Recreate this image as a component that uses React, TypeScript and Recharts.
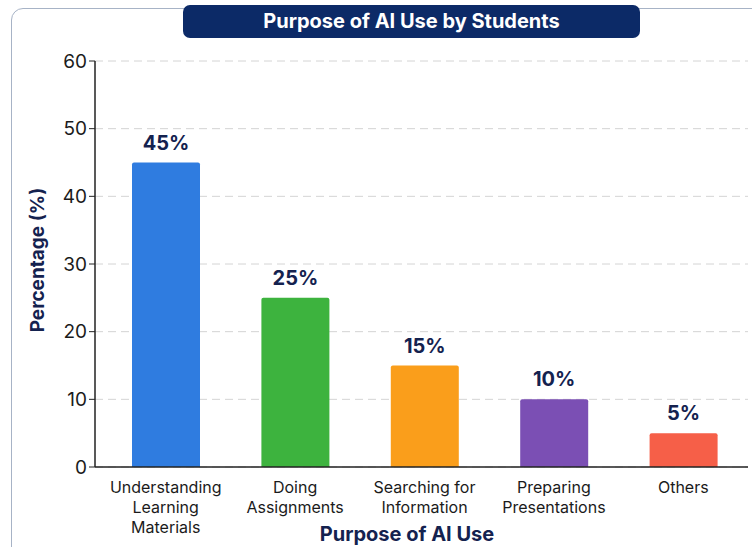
import { Bar, BarChart, CartesianGrid, Cell, LabelList, XAxis, YAxis } from "recharts";

const categories = [
  "Understanding\nLearning\nMaterials",
  "Doing\nAssignments",
  "Searching for\nInformation",
  "Preparing\nPresentations",
  "Others",
];
const percentages = [45, 25, 15, 10, 5];
const barColors = ["#2f7ce0", "#3db33e", "#fa9e1b", "#7b4fb4", "#f65f48"];
const yTicks = [0, 10, 20, 30, 40, 50, 60];

const NAVY = "#14224f";
const FONT = "Inter, 'Noto Sans', sans-serif";

const data = categories.map((name, i) => ({ name, value: percentages[i] }));

function CategoryTick(props: any) {
  const { x, y, payload } = props;
  const lines = String(payload.value).split("\n");
  return (
    <text x={x} y={y + 5} textAnchor="middle" fill="#1b1b1b" fontSize={16} fontFamily={FONT}>
      {lines.map((line, i) => (
        <tspan key={i} x={x} dy={i === 0 ? 13 : 20}>
          {line}
        </tspan>
      ))}
    </text>
  );
}

export default function App() {
  return (
    <div
      style={{
        position: "absolute",
        left: 0,
        top: 0,
        width: 752,
        height: 547,
        overflow: "hidden",
        background: "#ffffff",
        fontFamily: FONT,
      }}
    >
      <div
        style={{
          position: "absolute",
          left: 11,
          top: 8,
          width: 800,
          height: 600,
          border: "1.5px solid #a7b3c6",
          borderRadius: 12,
        }}
      />
      <div
        style={{
          position: "absolute",
          left: 183,
          top: 5,
          width: 457,
          height: 33,
          background: "#0c2a67",
          borderRadius: 7,
          color: "#ffffff",
          fontWeight: 700,
          fontSize: 20,
          lineHeight: "33px",
          textAlign: "center",
        }}
      >
        Purpose of AI Use by Students
      </div>
      <div style={{ position: "absolute", left: 0, top: 0 }}>
        <BarChart
          width={752}
          height={547}
          data={data}
          margin={{ top: 61, right: 4, left: 0, bottom: 0 }}
        >
          <CartesianGrid
            vertical={false}
            stroke="#d4d4d4"
            strokeDasharray="8 5"
          />
          <XAxis
            dataKey="name"
            height={80}
            padding={{ left: 6, right: 0 }}
            tickLine={false}
            axisLine={{ stroke: "#222", strokeWidth: 1.5 }}
            tick={<CategoryTick />}
            interval={0}
          />
          <YAxis
            width={95}
            domain={[0, 60]}
            ticks={yTicks}
            axisLine={{ stroke: "#222", strokeWidth: 1.5 }}
            tickLine={{ stroke: "#222" }}
            tickSize={6}
            tick={{ fill: "#1b1b1b", fontSize: 19, fontFamily: FONT }}
          />
          <Bar dataKey="value" barSize={68} isAnimationActive={false} radius={[2, 2, 0, 0]}>
            {data.map((_, i) => (
              <Cell key={i} fill={barColors[i]} />
            ))}
            <LabelList
              dataKey="value"
              position="top"
              offset={13}
              formatter={(v: any) => `${v}%`}
              style={{ fill: NAVY, fontSize: 20, fontWeight: 700, fontFamily: FONT }}
            />
          </Bar>
        </BarChart>
      </div>
      <div
        style={{
          position: "absolute",
          left: 37,
          top: 260,
          transform: "translate(-50%, -50%) rotate(-90deg)",
          whiteSpace: "nowrap",
          color: NAVY,
          fontWeight: 700,
          fontSize: 19,
        }}
      >
        Percentage (%)
      </div>
      <div
        style={{
          position: "absolute",
          left: 407,
          top: 534,
          transform: "translate(-50%, -50%)",
          whiteSpace: "nowrap",
          color: NAVY,
          fontWeight: 700,
          fontSize: 20,
        }}
      >
        Purpose of AI Use
      </div>
    </div>
  );
}
